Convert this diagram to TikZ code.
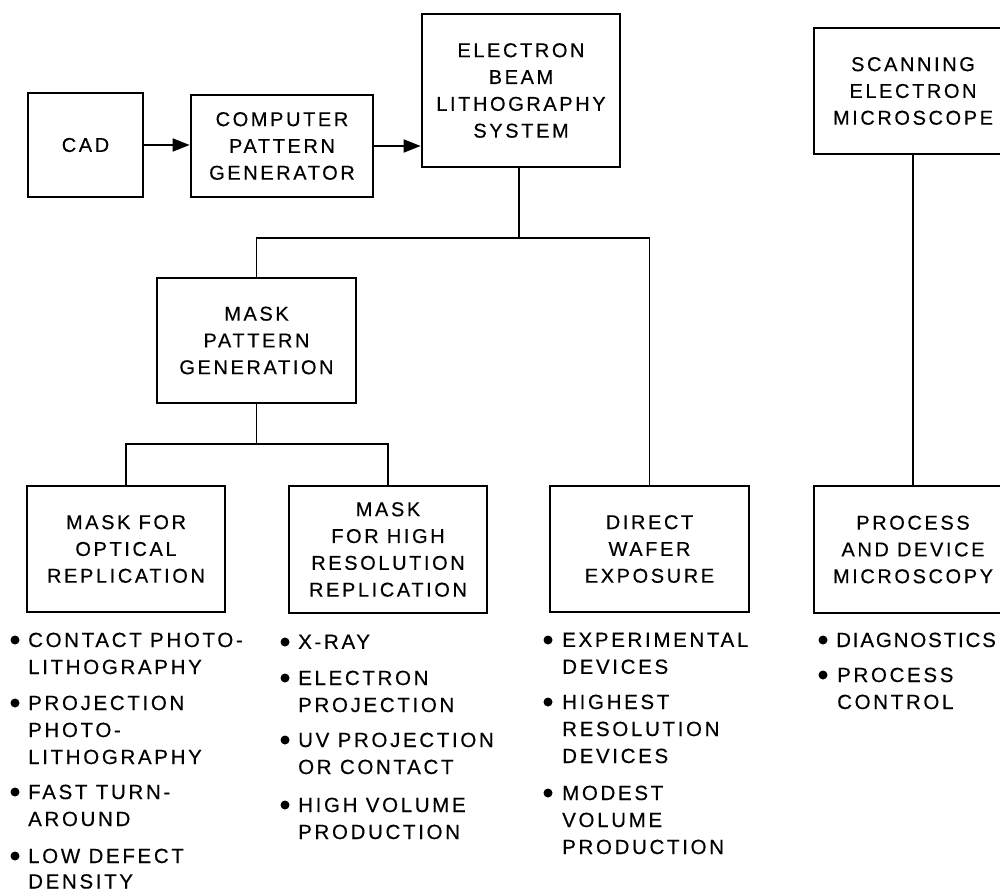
\documentclass[tikz,border=0pt]{standalone}
\usepackage{fontspec}
\setmainfont{Liberation Sans}[LetterSpace=13,FakeBold=0.4]
\usetikzlibrary{arrows.meta}
\begin{document}
\begin{tikzpicture}[x=1pt,y=-1pt,
  box/.style={draw, line width=2.6pt, align=center, inner sep=0pt,
    font=\fontsize{20}{26.8}\selectfont},
  conn/.style={line width=1.6pt},
  arr/.style={conn, -{Triangle[length=17pt,width=13pt]}},
  item/.style={anchor=north west, align=left, inner sep=0pt,
    font=\fontsize{20.5}{27}\selectfont},
  dot/.style={circle, fill, inner sep=0pt, minimum size=9pt}]
\useasboundingbox (0,0) rectangle (1000,893);
\clip (0,0) rectangle (1000,893);

% boxes
\node[box, minimum width=115pt, minimum height=104pt] (cad) at (85.5,145) {CAD};
\node[box, minimum width=182pt, minimum height=102pt] (cpg) at (282,146) {COMPUTER\\PATTERN\\GENERATOR};
\node[box, minimum width=198pt, minimum height=153pt] (ebls) at (521,90.5) {ELECTRON\\BEAM\\LITHOGRAPHY\\SYSTEM};
\node[box, minimum width=198pt, minimum height=126pt] (sem) at (913,91) {SCANNING\\ELECTRON\\MICROSCOPE};
\node[box, minimum width=199pt, minimum height=125pt] (mpg) at (256.5,340.5) {MASK\\PATTERN\\GENERATION};
\node[box, minimum width=198pt, minimum height=126pt] (mfo) at (126,549) {MASK FOR\\OPTICAL\\REPLICATION};
\node[box, minimum width=198pt, minimum height=127pt] (mhr) at (388,549.5) {MASK\\FOR HIGH\\RESOLUTION\\REPLICATION};
\node[box, minimum width=199pt, minimum height=126pt] (dw) at (649.5,549) {DIRECT\\WAFER\\EXPOSURE};
\node[box, minimum width=198pt, minimum height=127pt] (pd) at (913,549.5) {PROCESS\\AND DEVICE\\MICROSCOPY};

% connectors
\coordinate (j1) at (519,238);
\coordinate (j2) at (258,444);
\draw[arr] (cad.east) -- (cad.east -| cpg.west);
\draw[arr] (cpg.east) -- (cpg.east -| ebls.west);
\draw[conn] (ebls.south -| j1) -- (j1);
\draw[conn] (mpg.north) -- (mpg.north |- j1) -- (dw.north |- j1) -- (dw.north);
\draw[conn] (mpg.south) -- (mpg.south |- j2);
\draw[conn] (mfo.north) -- (mfo.north |- j2) -- (mhr.north |- j2) -- (mhr.north);
\draw[conn] (sem.south) -- (pd.north);

% lists: optical
\node[dot] (b1) at (15,640) {};
\node[item] (t1) at (28,632.5) {CONTACT PHOTO-\\LITHOGRAPHY};
\node[dot] (b2) at (15,703) {};
\node[item] (t2) at (28,695.5) {PROJECTION\\PHOTO-\\LITHOGRAPHY};
\node[dot] (b3) at (15,792) {};
\node[item] (t3) at (28,784.5) {FAST TURN-\\AROUND};
\node[dot] (b4) at (15,856) {};
\node[item, font=\fontsize{20.5}{25.5}\selectfont] (t4) at (28,848.5) {LOW DEFECT\\DENSITY};

% lists: high resolution
\node[dot] (b5) at (285,642) {};
\node[item] (t5) at (298,634.5) {X-RAY};
\node[dot] (b6) at (285,678) {};
\node[item] (t6) at (298,670.5) {ELECTRON\\PROJECTION};
\node[dot] (b7) at (285,740) {};
\node[item] (t7) at (298,732.5) {UV PROJECTION\\OR CONTACT};
\node[dot] (b8) at (285,805) {};
\node[item] (t8) at (298,797.5) {HIGH VOLUME\\PRODUCTION};

% lists: direct wafer
\node[dot] (b9) at (548,640) {};
\node[item] (t9) at (562,632.5) {EXPERIMENTAL\\DEVICES};
\node[dot] (b10) at (548,702) {};
\node[item] (t10) at (562,694.5) {HIGHEST\\RESOLUTION\\DEVICES};
\node[dot] (b11) at (548,793) {};
\node[item] (t11) at (562,785.5) {MODEST\\VOLUME\\PRODUCTION};

% lists: microscopy
\node[dot] (b12) at (823,640) {};
\node[item] (t12) at (836,632.5) {\addfontfeature{LetterSpace=9}DIAGNOSTICS};
\node[dot] (b13) at (823,675) {};
\node[item] (t13) at (837,667.5) {PROCESS\\CONTROL};
\end{tikzpicture}
\end{document}
